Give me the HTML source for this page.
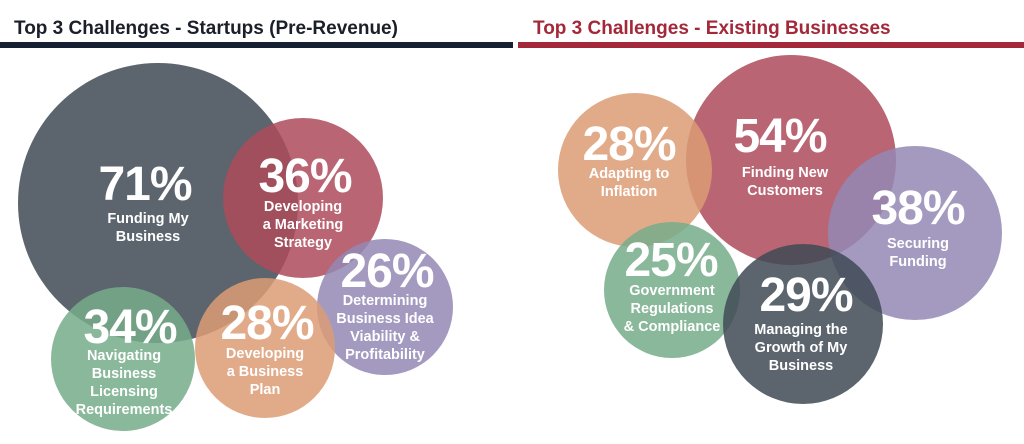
<!DOCTYPE html>
<html><head><meta charset="utf-8"><style>
html,body{margin:0;padding:0;background:#fff;width:1024px;height:444px;overflow:hidden}
svg{display:block}
text{font-family:"Liberation Sans",sans-serif;fill:#fff;text-anchor:middle}
.p{font-size:48px;font-weight:bold;letter-spacing:-1px}
.l{font-size:14.5px;font-weight:bold}
.t{font-size:19px;font-weight:bold;text-anchor:start}
circle{fill-opacity:0.85}
</style></head><body>
<svg width="1024" height="444" viewBox="0 0 1024 444">
<text class="t" x="14" y="34" style="fill:#1b1f2a">Top 3 Challenges - Startups (Pre-Revenue)</text>
<rect x="0" y="42" width="513" height="6" fill="#152033"/>
<text class="t" x="533" y="34" style="fill:#a3283a">Top 3 Challenges - Existing Businesses</text>
<rect x="518" y="42" width="506" height="6" fill="#a3283a"/>
<circle cx="158" cy="203" r="140" fill="#3f4a55"/>
<circle cx="303" cy="198" r="80" fill="#ad4a5b"/>
<circle cx="385" cy="307" r="68" fill="#9488b5"/>
<circle cx="265" cy="348" r="70" fill="#dc9c75"/>
<circle cx="123" cy="359" r="72" fill="#75ab89"/>
<circle cx="791" cy="160" r="105" fill="#ad4a5b"/>
<circle cx="635" cy="170" r="77" fill="#dc9c75"/>
<circle cx="915" cy="233" r="87" fill="#9488b5"/>
<circle cx="672" cy="290" r="68" fill="#75ab89"/>
<circle cx="803" cy="324" r="80" fill="#3f4a55"/>
<text class="p" x="145" y="200">71%</text>
<text class="l" x="148" y="223">Funding My</text><text class="l" x="148" y="241">Business</text>
<text class="p" x="305" y="192">36%</text>
<text class="l" x="303" y="211">Developing</text><text class="l" x="303" y="229">a Marketing</text><text class="l" x="303" y="247">Strategy</text>
<text class="p" x="387" y="287">26%</text>
<text class="l" x="385" y="305">Determining</text><text class="l" x="385" y="323">Business Idea</text><text class="l" x="385" y="341">Viability &amp;</text><text class="l" x="385" y="359">Profitability</text>
<text class="p" x="267" y="339">28%</text>
<text class="l" x="265" y="358">Developing</text><text class="l" x="265" y="376">a Business</text><text class="l" x="265" y="394">Plan</text>
<text class="p" x="130" y="343">34%</text>
<text class="l" x="124" y="360">Navigating</text><text class="l" x="124" y="378">Business</text><text class="l" x="124" y="396">Licensing</text><text class="l" x="124" y="414">Requirements</text>
<text class="p" x="629" y="160">28%</text>
<text class="l" x="629" y="178">Adapting to</text><text class="l" x="629" y="196">Inflation</text>
<text class="p" x="780" y="152">54%</text>
<text class="l" x="785" y="177">Finding New</text><text class="l" x="785" y="195">Customers</text>
<text class="p" x="918" y="224">38%</text>
<text class="l" x="918" y="248">Securing</text><text class="l" x="918" y="266">Funding</text>
<text class="p" x="671" y="276">25%</text>
<text class="l" x="672" y="295">Government</text><text class="l" x="672" y="313">Regulations</text><text class="l" x="672" y="331">&amp; Compliance</text>
<text class="p" x="806" y="311">29%</text>
<text class="l" x="801" y="334">Managing the</text><text class="l" x="801" y="352">Growth of My</text><text class="l" x="801" y="370">Business</text>
</svg>
</body></html>
